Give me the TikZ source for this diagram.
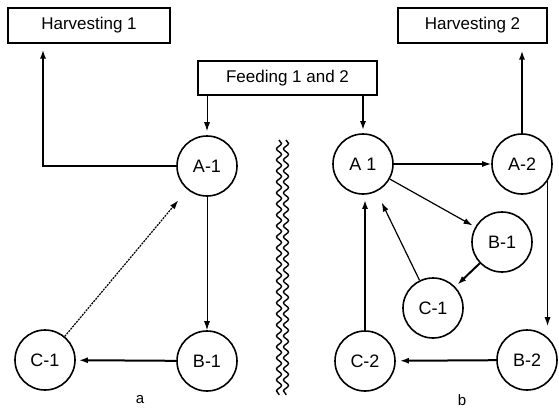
\documentclass[tikz,border=0pt]{standalone}
\usepackage{fontspec}
\setmainfont{Liberation Sans}
\usetikzlibrary{arrows.meta,decorations.pathmorphing}
\begin{document}
\begin{tikzpicture}[x=1pt,y=-1pt,
  tank/.style={draw, circle, line width=1.6pt, minimum size=60pt, inner sep=0pt, font=\fontsize{18}{20}\selectfont},
  box/.style={draw, line width=2pt, inner sep=0pt, font=\fontsize{17}{20}\selectfont},
  flow/.style={line width=1pt, -{Latex[length=9pt,width=6pt]}},
  bigflow/.style={line width=2pt, -{Latex[length=9pt,width=6pt]}},
  wavy/.style={line width=1.4pt, decorate, decoration={snake, segment length=11pt, amplitude=2.5pt}}]
\useasboundingbox (0,0) rectangle (559,408);

\node[box, minimum width=162pt, minimum height=35pt] (harv1) at (89,25) {Harvesting 1};
\node[box, minimum width=179pt, minimum height=34pt] (feed) at (287.5,78) {Feeding 1 and 2};
\node[box, minimum width=149pt, minimum height=35pt] (harv2) at (472.5,25) {Harvesting 2};

% system a
\node[tank] (a1a) at (207,166) {A-1};
\node[tank] (b1a) at (207,361) {B-1};
\node[tank] (c1a) at (45,360) {C-1};
\node[font=\fontsize{15}{17}\selectfont] (la) at (140,400) {a};

\coordinate (h1in) at ([xshift=-46pt]harv1.south);
\draw[flow, shorten >=4pt] (feed.south -| a1a) -- (a1a);
\draw[bigflow, shorten >=6pt] (a1a) -- (a1a -| h1in) -- (h1in);
\draw[flow] (a1a) -- (b1a);
\draw[bigflow, shorten >=3pt] (b1a) -- (c1a);
\draw[flow, line width=1.2pt, dash pattern=on 2pt off 1pt, shorten >=14pt] (c1a) -- (a1a);

% divider
\draw[wavy] (279,140) -- (279,395);
\draw[wavy] (286,140) -- (286,395);

% system b
\node[tank] (a1b) at (363,164) {A 1};
\node[tank] (a2b) at (522,164) {A-2};
\node[tank] (b1b) at (502,242) {B-1};
\node[tank] (c1b) at (433,308) {C-1};
\node[tank] (c2b) at (365,361) {C-2};
\node[tank] (b2b) at (527,360) {B-2};
\node[font=\fontsize{15}{17}\selectfont] (lb) at (462,400) {b};

\draw[bigflow, shorten >=3pt] (feed.south -| a1b) -- (a1b);
\draw[flow, line width=1.3pt] (a1b) -- (a2b);
\draw[bigflow, shorten >=7pt] (a2b) -- (a2b |- harv2.south);
\draw[flow, line width=1.3pt, shorten >=3pt] (a2b.-34) -- (a2b.-34 |- b2b.north);
\draw[bigflow, shorten >=4pt] (b2b) -- (c2b);
\draw[bigflow, shorten >=5pt] (c2b) -- (c2b |- a1b.south);
\draw[flow, line width=1.2pt, shorten >=3pt] (a1b) -- (b1b);
\draw[flow, line width=1.2pt, shorten >=12pt] (c1b) -- (a1b);
\draw[bigflow, shorten >=3pt] (b1b) -- (c1b);
\end{tikzpicture}
\end{document}
